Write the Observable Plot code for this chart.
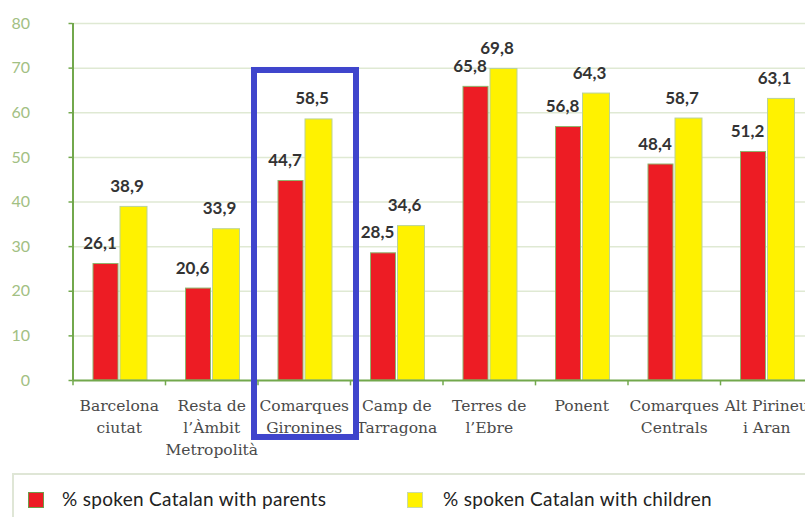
<!DOCTYPE html>
<html>
<head>
<meta charset="utf-8">
<script src="https://cdn.jsdelivr.net/npm/d3@7"></script>
<script src="https://cdn.jsdelivr.net/npm/@observablehq/plot@0.6"></script>
<style>
  html, body { margin: 0; padding: 0; background: #fff; overflow: hidden; width: 805px; height: 517px; }
  #chart svg { display: block; }
  #legend { position: absolute; left: 12px; top: 473px; width: 820px; height: 60px;
            border-top: 2px solid #dfe6d6; border-left: 2px solid #dfe6d6; font-family: Lato, sans-serif; }
  .item { position: absolute; top: 0; font-size: 19px; letter-spacing: 0.3px; color: #222; white-space: nowrap; }
  .sw { position: absolute; width: 14px; height: 14px; }
</style>
</head>
<body>
<div id="chart"></div>
<div id="legend"></div>
<script>
const categories = ["Barcelona ciutat", "Resta de l’Àmbit Metropolità", "Comarques Gironines", "Camp de Tarragona",
                    "Terres de l’Ebre", "Ponent", "Comarques Centrals", "Alt Pirineu i Aran"];
const tickLabels = ["Barcelona\nciutat", "Resta de\nl’Àmbit\nMetropolità", "Comarques\nGironines", "Camp de\nTarragona",
                    "Terres de\nl’Ebre", "Ponent", "Comarques\nCentrals", "Alt Pirineu\ni Aran"];
const parents  = [26.1, 20.6, 44.7, 28.5, 65.8, 56.8, 48.4, 51.2];
const children = [38.9, 33.9, 58.5, 34.6, 69.8, 64.3, 58.7, 63.1];
const yTicks = [0, 10, 20, 30, 40, 50, 60, 70, 80];
const seriesNames = ["% spoken Catalan with parents", "% spoken Catalan with children"];
const highlight = "Comarques Gironines";

const data = categories.map((c, i) => ({category: c, parents: parents[i], children: children[i]}));
const fmt = v => v.toFixed(1).replace(".", ",");

const green = "#72a84c";
const red = "#ed1c24";
const yellow = "#fff200";
const band = 92.5;

const chart = Plot.plot({
  width: 805,
  height: 470,
  marginLeft: 72.5,
  marginRight: -7.5,
  marginTop: 23,
  marginBottom: 90,
  x: {domain: categories, padding: 0, round: false, axis: null},
  y: {domain: [0, 80], axis: null},
  marks: [
    Plot.gridY(yTicks.slice(1), {stroke: "#dfe9d3", strokeOpacity: 1, strokeWidth: 1.5}),
    Plot.barY(data, {x: "category", y: "parents", fill: red, stroke: "#8fb46c", strokeWidth: 1,
                     insetLeft: 20.5, insetRight: band - 45.5}),
    Plot.barY(data, {x: "category", y: "children", fill: yellow, stroke: "#b9d29a", strokeWidth: 1,
                     insetLeft: 47.5, insetRight: band - 74.5}),
    Plot.text(data, {x: "category", y: "parents", text: d => fmt(d.parents), dx: 33 - band / 2 - 6, dy: -15,
                     lineAnchor: "bottom", fontFamily: "Lato", fontWeight: "bold", fontSize: 17, fill: "#333"}),
    Plot.text(data, {x: "category", y: "children", text: d => fmt(d.children), dx: 61 - band / 2 - 7, dy: -15,
                     lineAnchor: "bottom", fontFamily: "Lato", fontWeight: "bold", fontSize: 17, fill: "#333"}),
    Plot.ruleY([0], {stroke: green, strokeWidth: 2}),
    Plot.ruleX(categories.slice(0, 1), {dx: -band / 2, y1: 0, y2: 80, stroke: green, strokeWidth: 2}),
    Plot.ruleX(categories, {dx: -band / 2, y1: 0, y2: -1.2, stroke: green, strokeWidth: 1.5}),
    Plot.axisY(yTicks, {tickSize: 4, tickPadding: 39, stroke: green, strokeWidth: 1.5, fill: "#a2c083",
                        fontFamily: "Lato", fontSize: 16, label: null}),
    Plot.axisX({tickSize: 0, tickPadding: 15, tickFormat: d => tickLabels[categories.indexOf(d)], label: null,
                fontFamily: "DejaVu Serif", fontSize: 15.5, lineHeight: 1.42, fill: "#4a4a4a"}),
    Plot.barY([highlight], {x: d => d, y1: -12.77, y2: 69.47, fill: "none", stroke: "#3f45cc", strokeWidth: 6,
                            insetLeft: -3.5, insetRight: -6})
  ]
});
document.getElementById("chart").appendChild(chart);

const legend = document.getElementById("legend");
const colors = [red, yellow];
const borders = ["#6f9c4a", "#c9dba8"];
const swatchX = [14, 393];
const textX = [48, 429];
seriesNames.forEach((name, i) => {
  const sw = document.createElement("div");
  sw.className = "sw";
  sw.style.left = swatchX[i] + "px";
  sw.style.top = "17px";
  sw.style.background = colors[i];
  sw.style.border = "1px solid " + borders[i];
  legend.appendChild(sw);
  const t = document.createElement("div");
  t.className = "item";
  t.style.left = textX[i] + "px";
  t.style.top = "12px";
  t.textContent = name;
  legend.appendChild(t);
});
</script>
</body>
</html>
